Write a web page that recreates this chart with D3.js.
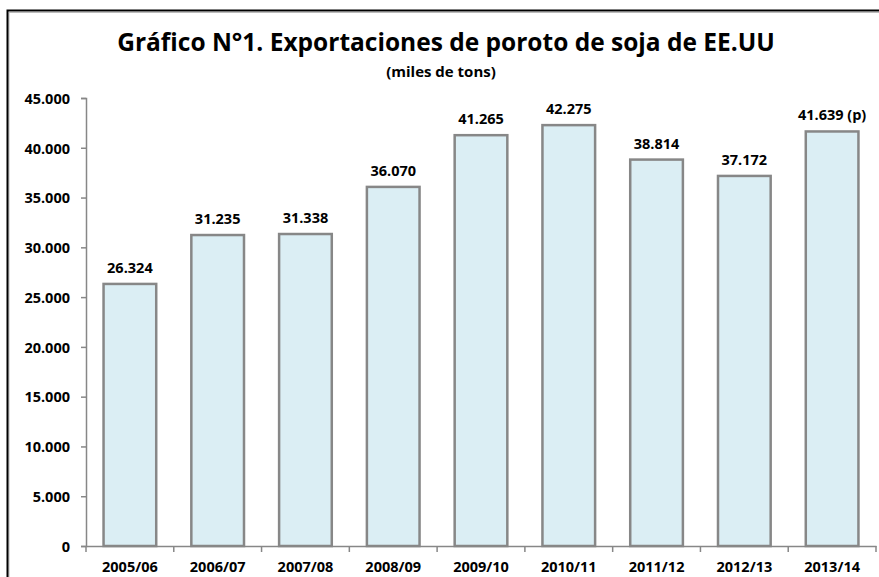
<!DOCTYPE html>
<html>
<head>
<meta charset="utf-8">
<script src="https://cdn.jsdelivr.net/npm/d3@7"></script>
<style>
	html, body { margin: 0; background: #fff; overflow: hidden; }
	svg { display: block; font-family: "Open Sans", sans-serif; font-weight: bold; }
</style>
</head>
<body>
<svg id="chart"></svg>
<script>
// campañas y exportaciones (miles de tons)
const campaigns = ['2005/06', '2006/07', '2007/08', '2008/09', '2009/10', '2010/11', '2011/12', '2012/13', '2013/14'];
const exportsTons = [26324, 31235, 31338, 36070, 41265, 42275, 38814, 37172, 41639];
const valueSuffix = ['', '', '', '', '', '', '', '', ' (p)'];
const yTicks = [0, 5000, 10000, 15000, 20000, 25000, 30000, 35000, 40000, 45000];

const width = 879, height = 577;
const margin = { top: 98, right: 3, bottom: 31, left: 86 };
const labelSize = 14.5;

const svg = d3.select('#chart')
	.attr('width', width)
	.attr('height', height);

// marco del gráfico (con leve sombra)
svg.append('path')
	.attr('d', `M9,${height + 5}V12.5H${width + 5}`)
	.attr('fill', 'none')
	.attr('stroke', '#bbb')
	.attr('stroke-width', 1);
svg.append('path')
	.attr('d', `M7.5,${height + 5}V10.5H${width + 5}`)
	.attr('fill', 'none')
	.attr('stroke', '#000')
	.attr('stroke-width', 2);

const fmt = d3.format(',d');
const esNum = v => fmt(v).replace(/,/g, '.');

const x = d3.scaleBand()
	.domain(campaigns)
	.range([margin.left, width - margin.right])
	.paddingInner(0.4)
	.paddingOuter(0.2);

const y = d3.scaleLinear()
	.domain([0, 45000])
	.range([height - margin.bottom, margin.top]);

// barras
svg.append('g')
	.selectAll('rect')
	.data(exportsTons)
	.join('rect')
	.attr('x', (d, i) => x(campaigns[i]))
	.attr('y', d => y(d))
	.attr('width', x.bandwidth())
	.attr('height', d => y(0) - y(d))
	.attr('fill', '#dbeef4')
	.attr('stroke', '#878787')
	.attr('stroke-width', 2.5);

// etiquetas de valor
svg.append('g')
	.selectAll('text')
	.data(exportsTons)
	.join('text')
	.attr('x', (d, i) => x(campaigns[i]) + x.bandwidth() / 2)
	.attr('y', d => y(d) - 11)
	.attr('text-anchor', 'middle')
	.attr('font-size', labelSize)
	.attr('fill', '#000')
	.text((d, i) => esNum(d) + valueSuffix[i]);

// eje y
const yAxis = svg.append('g')
	.attr('transform', `translate(${margin.left},0)`)
	.call(d3.axisLeft(y).tickValues(yTicks).tickSize(5).tickPadding(11).tickFormat(esNum));

// eje x
const xAxis = svg.append('g')
	.attr('transform', `translate(0,${y(0)})`)
	.call(d3.axisBottom(x).tickSize(0).tickPadding(16));

// marcas entre categorías
const step = x.step();
svg.append('g')
	.selectAll('line')
	.data(d3.range(campaigns.length + 1))
	.join('line')
	.attr('x1', i => margin.left + i * step)
	.attr('x2', i => margin.left + i * step)
	.attr('y1', y(0))
	.attr('y2', y(0) + 6)
	.attr('stroke', '#878787')
	.attr('stroke-width', 1.5);

[yAxis, xAxis].forEach(a => {
	a.select('.domain').attr('stroke', '#878787').attr('stroke-width', 1.5);
	a.selectAll('.tick line').attr('stroke', '#878787').attr('stroke-width', 1.5);
	a.selectAll('text')
		.attr('fill', '#000')
		.attr('font-size', labelSize)
		.attr('font-family', '"Open Sans", sans-serif')
		.attr('font-weight', 'bold');
});
yAxis.selectAll('text').attr('dy', '0.36em');
xAxis.selectAll('text').attr('y', 26).attr('dy', 0);

// títulos
svg.append('text')
	.attr('x', 446)
	.attr('y', 51)
	.attr('text-anchor', 'middle')
	.attr('font-size', 24.5)
	.text('Gráfico N°1. Exportaciones de poroto de soja de EE.UU');

svg.append('text')
	.attr('x', 441)
	.attr('y', 77)
	.attr('text-anchor', 'middle')
	.attr('font-size', 15)
	.text('(miles de tons)');
</script>
</body>
</html>
